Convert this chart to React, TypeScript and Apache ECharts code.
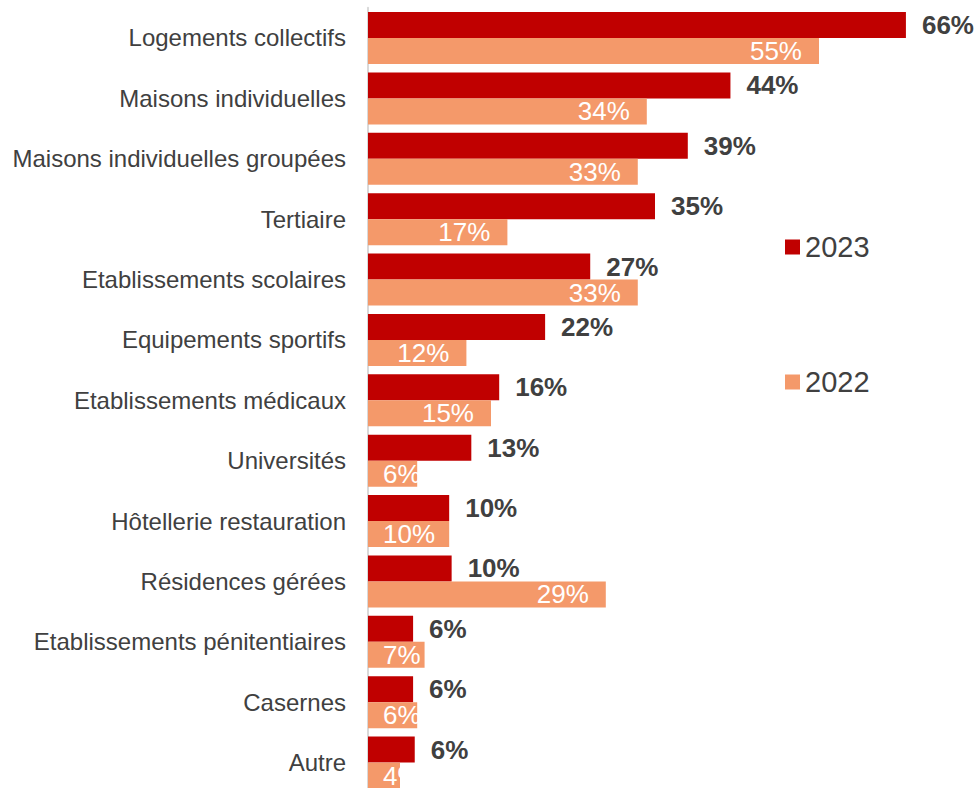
import React, { useEffect, useRef } from "react";
import * as echarts from "echarts";

const categories = [
  "Logements collectifs",
  "Maisons individuelles",
  "Maisons individuelles groupées",
  "Tertiaire",
  "Etablissements scolaires",
  "Equipements sportifs",
  "Etablissements médicaux",
  "Universités",
  "Hôtellerie restauration",
  "Résidences gérées",
  "Etablissements pénitentiaires",
  "Casernes",
  "Autre",
];

const values2023 = [65.6, 44.2, 39.0, 35.0, 27.1, 21.6, 16.0, 12.6, 9.9, 10.2, 5.5, 5.5, 5.7];
const values2022 = [55.0, 34.0, 32.9, 17.0, 32.9, 12.0, 15.0, 6.0, 9.9, 29.0, 6.9, 6.0, 3.9];

const FONT = "Arial, 'Liberation Sans', Helvetica, sans-serif";
const RED = "#C00000";
const ORANGE = "#F4996A";
const TEXT = "#404040";

export default function App() {
  const ref = useRef<HTMLDivElement>(null);

  useEffect(() => {
    if (!ref.current) return;
    const chart = echarts.init(ref.current, undefined, { renderer: "svg" });
    const fmt = (p: any) => Math.round(p.value) + "%";
    const legendText = { fontSize: 29, color: TEXT, fontFamily: FONT, lineHeight: 32 };
    chart.setOption({
      animation: false,
      textStyle: { fontFamily: FONT },
      grid: { left: 368, top: 7.8, height: 785, width: 574, containLabel: false },
      legend: [
        {
          data: ["2023"],
          left: 785,
          top: 231,
          padding: 0,
          icon: "rect",
          itemWidth: 15,
          itemHeight: 15,
          textStyle: legendText,
        },
        {
          data: ["2022"],
          left: 785,
          top: 366,
          padding: 0,
          icon: "rect",
          itemWidth: 15,
          itemHeight: 15,
          textStyle: legendText,
        },
      ],
      xAxis: {
        type: "value",
        min: 0,
        max: 70,
        show: false,
        splitLine: { show: false },
      },
      yAxis: {
        type: "category",
        inverse: true,
        data: categories,
        axisLine: { show: true, lineStyle: { color: "#d9d9d9", width: 2 } },
        axisTick: { show: false },
        axisLabel: { color: TEXT, fontSize: 24, fontFamily: FONT, margin: 22 },
      },
      series: [
        {
          name: "2023",
          type: "bar",
          barWidth: 26,
          barGap: "0%",
          itemStyle: { color: RED },
          data: values2023,
          label: {
            show: true,
            position: "right",
            distance: 16,
            color: TEXT,
            fontWeight: "bold",
            fontSize: 26,
            fontFamily: FONT,
            formatter: fmt,
          },
        },
        {
          name: "2022",
          type: "bar",
          barWidth: 26,
          barGap: "0%",
          itemStyle: { color: ORANGE },
          data: values2022.map((v) => ({
            value: v,
            label:
              v < 11
                ? { position: "insideLeft", distance: 15 }
                : { position: "insideRight", distance: 17 },
          })),
          label: {
            show: true,
            color: "#ffffff",
            fontSize: 26,
            fontFamily: FONT,
            formatter: fmt,
          },
        },
      ],
    });
    return () => chart.dispose();
  }, []);

  return (
    <div
      ref={ref}
      style={{ position: "absolute", left: 0, top: 0, width: 979, height: 800, background: "#fff" }}
    />
  );
}
